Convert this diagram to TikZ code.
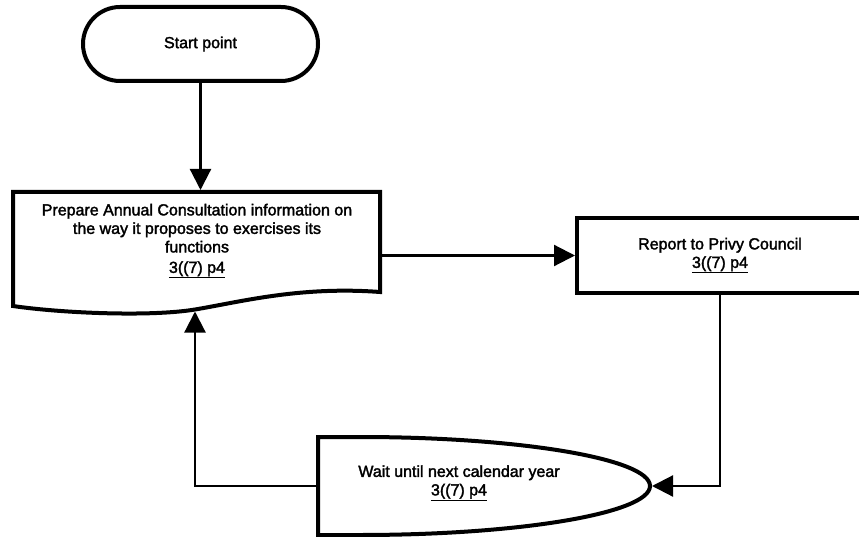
\documentclass[tikz,border=0pt]{standalone}
\usepackage{fontspec}
\setmainfont{Liberation Sans}
\newfontfamily\scanfont[FakeBold=2]{Liberation Sans}
\usetikzlibrary{arrows.meta}
\begin{document}
\begin{tikzpicture}[x=1pt,y=-1pt,
  outline/.style={line width=4pt, line join=miter},
  txt/.style={align=center, font=\scanfont\fontsize{16}{18.5}\selectfont, inner sep=0pt},
  area/.style={draw=none, rectangle, inner sep=0pt, outer sep=0pt},
  flow/.style={line width=2.2pt, -{Triangle[length=21pt,width=21pt]}}]
\useasboundingbox (0,0) rectangle (859,537);
\clip (0,0) rectangle (859,537);
\fill[white] (0,0) rectangle (859,537);

% terminator
\node[outline, draw, rounded corners=37pt, minimum width=235pt, minimum height=74pt, txt] (start) at (200.5,44) {Start point};

% document shape with a wavy lower edge
\node[area, minimum width=367pt, minimum height=100pt] (doc) at (196.5,242) {};
\coordinate (docin) at (195,309.5);
\draw[outline] (doc.north west) -- (doc.north east) -- (doc.south east)
  .. controls (300,286) and (240,302) .. (docin)
  .. controls (150,317) and (60,313) .. (13,306) -- cycle;
\node[txt] (doctext) at (197,241) {Prepare Annual Consultation information on\\the way it proposes to exercises its\\functions\\[2pt]\underline{3((7) p4}};

% process box, running off the right edge
\node[outline, draw, rectangle, minimum width=286pt, minimum height=75pt, txt] (report) at (720,255.5) {Report to Privy Council\\\underline{3((7) p4}};

% delay shape
\node[area, minimum width=332pt, minimum height=98pt] (wait) at (484,486) {};
\draw[outline] (wait.north west) -- ([xshift=42pt]wait.north west)
  .. controls ([xshift=202.2pt]wait.north west) and ([yshift=27.1pt]wait.east) .. (wait.east)
  .. controls ([yshift=-27.1pt]wait.east) and ([xshift=202.2pt]wait.south west) .. ([xshift=42pt]wait.south west)
  -- (wait.south west) -- cycle;
\node[txt] (waittext) at (459,483) {Wait until next calendar year\\\underline{3((7) p4}};

% connectors
\draw[flow, shorten >=2pt] (start.south) -- (start.south |- doc.north);
\draw[flow] (doc.east |- report.west) -- (report.west);
\draw[flow, shorten >=2pt] (report.south) |- (wait.east);
\draw[flow, shorten >=2pt] (wait.west) -| (docin);
\end{tikzpicture}
\end{document}
